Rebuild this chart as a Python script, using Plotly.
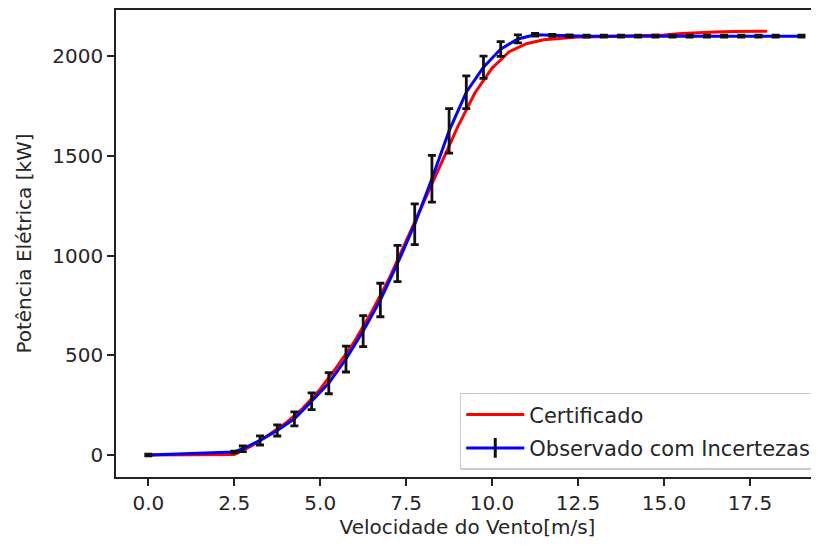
import plotly.graph_objects as go

# Certified power curve
cert_x = [0, 0.5, 1, 1.5, 2, 2.5, 3, 3.5, 4, 4.5, 5, 5.5, 6, 6.5, 7, 7.5, 8, 8.5, 9,
          9.5, 10, 10.5, 11, 11.5, 12, 12.5, 13, 13.5, 14, 14.5, 15, 15.5, 16, 16.5,
          17, 17.5, 18]
cert_y = [0, 0, 0, 0, 0, 2, 45, 100, 160, 235, 330, 445, 570, 718, 882, 1072, 1265,
          1455, 1645, 1815, 1940, 2022, 2062, 2082, 2090, 2095, 2097, 2099, 2100,
          2102, 2106, 2113, 2118, 2121, 2123, 2124, 2124]

# Observed power curve with uncertainties
obs_x = [0, 2.5, 2.75, 3.25, 3.75, 4.25, 4.75, 5.25, 5.75, 6.25, 6.75, 7.25, 7.75,
         8.25, 8.75, 9.25, 9.75, 10.25, 10.75, 11.25, 11.75, 12.25, 12.75, 13.25,
         13.75, 14.25, 14.75, 15.25, 15.75, 16.25, 16.75, 17.25, 17.75, 18.25, 19.0]
obs_y = [0, 15, 31, 73, 123, 181, 269, 360, 481, 621, 777, 960, 1157, 1385, 1625,
         1819, 1944, 2035, 2086, 2107, 2104, 2101, 2100, 2100, 2100, 2100, 2100,
         2100, 2100, 2100, 2100, 2100, 2100, 2100, 2100]
obs_err = [4, 4, 14, 23, 28, 35, 42, 53, 65, 78, 84, 91, 102, 117, 112, 82, 56, 37,
           20, 7, 5, 5, 5, 5, 5, 5, 5, 5, 5, 5, 5, 5, 5, 5, 5]

x_ticks = [0, 2.5, 5, 7.5, 10, 12.5, 15, 17.5]
y_ticks = [0, 500, 1000, 1500, 2000]

FONT = "DejaVu Sans"
TXT = "#262626"

fig = go.Figure()
fig.add_trace(go.Scatter(x=cert_x, y=cert_y, mode="lines", name="Certificado",
                         legendgroup="cert",
                         line=dict(color="#ff0000", width=3)))
fig.add_trace(go.Scatter(x=obs_x, y=obs_y, mode="lines", showlegend=False,
                         line=dict(color="#0000ff", width=3)))
fig.add_trace(go.Scatter(x=obs_x, y=obs_y, mode="markers", showlegend=False,
                         marker=dict(size=1, color="rgba(0,0,0,0)"),
                         error_y=dict(type="data", array=obs_err, visible=True,
                                      color="#111111", thickness=2.8, width=4)))
# legend entry for observed series
fig.add_trace(go.Scatter(x=[None], y=[None], mode="lines+markers",
                         name="Observado com Incertezas", legendgroup="obs",
                         line=dict(color="#0000ff", width=3),
                         marker=dict(symbol="line-ns", size=14,
                                     line=dict(color="#111111", width=3))))

# the page adds an 8px body margin, so the figure is shrunk to fit the window
fig.update_layout(
    width=811, height=538,
    margin=dict(l=108, r=0, t=2, b=69),
    paper_bgcolor="white", plot_bgcolor="white",
    font=dict(family=FONT, size=20, color=TXT),
    legend=dict(x=0.489, y=0.18, xanchor="left", yanchor="top",
                bgcolor="rgba(255,255,255,0.85)", bordercolor="#cccccc",
                borderwidth=1.5, font=dict(family=FONT, size=21, color=TXT),
                tracegroupgap=3, itemwidth=58),
)
fig.update_xaxes(range=[-0.94, 19.51], tickvals=x_ticks,
                 ticktext=[f"{v:.1f}" for v in x_ticks], automargin=False,
                 showgrid=False, zeroline=False, showline=True, linecolor="#222222",
                 linewidth=1.6, mirror=True, ticks="outside", ticklen=7, tickwidth=1.6,
                 tickcolor="#222222",
                 title=dict(text="Velocidade do Vento[m/s]", standoff=5,
                            font=dict(family=FONT, size=20, color=TXT)))
fig.update_yaxes(range=[-110.5, 2231], tickvals=y_ticks,
                 ticktext=[str(v) for v in y_ticks], automargin=False,
                 showgrid=False, zeroline=False, showline=True, linecolor="#222222",
                 linewidth=1.6, ticks="outside", ticklen=7, tickwidth=1.6,
                 tickcolor="#222222",
                 title=dict(text="Potência Elétrica [kW]", standoff=15,
                            font=dict(family=FONT, size=20, color=TXT)))

fig.write_html("out.html")
